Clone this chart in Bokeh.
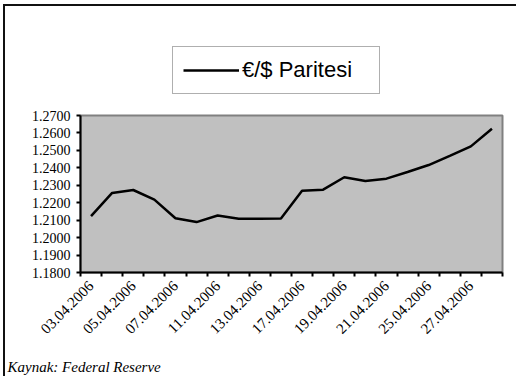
import math
from bokeh.plotting import figure
from bokeh.layouts import column
from bokeh.models import (Range1d, FixedTicker, NumeralTickFormatter, Label,
                          Legend, LegendItem, InlineStyleSheet)
from bokeh.embed import file_html
from bokeh.resources import INLINE

# ---- data ----
dates = ["03.04.2006", "04.04.2006", "05.04.2006", "06.04.2006", "07.04.2006",
         "10.04.2006", "11.04.2006", "12.04.2006", "13.04.2006", "14.04.2006",
         "17.04.2006", "18.04.2006", "19.04.2006", "20.04.2006", "21.04.2006",
         "24.04.2006", "25.04.2006", "26.04.2006", "27.04.2006", "28.04.2006"]
rates = [1.2123, 1.2256, 1.2273, 1.2218, 1.2111, 1.2089, 1.2127, 1.2108,
         1.2108, 1.2110, 1.2268, 1.2275, 1.2346, 1.2325, 1.2338, 1.2376,
         1.2416, 1.2468, 1.2523, 1.2624]
y_ticks = [1.18, 1.19, 1.20, 1.21, 1.22, 1.23, 1.24, 1.25, 1.26, 1.27]
series_name = "€/$ Paritesi"
source_note = "Kaynak: Federal Reserve"

idx = list(range(len(dates)))
W = 511

# ---------- legend strip (top) ----------
top = figure(width=W, height=100, output_backend="svg", toolbar_location=None,
             x_axis_type=None, y_axis_type=None, min_border=0,
             x_range=Range1d(-0.5, len(dates) - 0.5), y_range=Range1d(0, 1))
top.frame_align = False
top.outline_line_color = None
top.xgrid.visible = False
top.ygrid.visible = False
# same series, outside this strip's visible range: only its legend entry shows
r_leg = top.line(idx, rates, line_color="black", line_width=2.5)
lg = Legend(items=[LegendItem(label=series_name, renderers=[r_leg])],
            location=(167, 12), orientation="vertical",
            glyph_width=56, glyph_height=20, label_standoff=3,
            padding=10, spacing=0, margin=0, label_width=127,
            label_text_font="Liberation Sans", label_text_font_size="22px",
            label_text_color="black", border_line_color="#606060",
            border_line_width=1.5, background_fill_color="white",
            background_fill_alpha=1)
top.add_layout(lg)

# ---------- main chart ----------
p = figure(width=W, height=242, output_backend="svg", toolbar_location=None,
           x_range=Range1d(-0.5, len(dates) - 0.5),
           y_range=Range1d(y_ticks[0], y_ticks[-1]),
           min_border_left=75, min_border_right=14,
           min_border_top=9, min_border_bottom=76)
p.background_fill_color = "#c0c0c0"
p.border_fill_color = "white"
p.outline_line_color = "#808080"
p.outline_line_width = 2
p.xgrid.visible = False
p.ygrid.visible = False

p.line(idx, rates, line_color="black", line_width=2.5)

ya = p.yaxis[0]
ya.ticker = FixedTicker(ticks=y_ticks)
ya.formatter = NumeralTickFormatter(format="0.0000")
ya.axis_line_color = "black"
ya.axis_line_width = 2
ya.major_tick_in = 0
ya.major_tick_out = 4
ya.major_tick_line_width = 2
ya.minor_tick_line_color = None
ya.major_label_text_font = "Liberation Serif"
ya.major_label_text_font_size = "14px"
ya.major_label_text_color = "black"
ya.major_label_standoff = 6

xa = p.xaxis[0]
label_pos = idx[::2]
xa.ticker = FixedTicker(ticks=label_pos,
                        minor_ticks=[i - 0.5 for i in range(len(dates) + 1)])
xa.major_label_overrides = {i: dates[i] for i in label_pos}
xa.major_label_orientation = math.pi / 4
xa.axis_line_color = "black"
xa.axis_line_width = 2
xa.major_tick_in = 0
xa.major_tick_out = 0
xa.minor_tick_in = 0
xa.minor_tick_out = 4
xa.minor_tick_line_color = "black"
xa.minor_tick_line_width = 2
xa.major_label_text_font = "Liberation Serif"
xa.major_label_text_font_size = "15px"
xa.major_label_text_color = "black"
xa.major_label_standoff = 7

# ---------- source note strip (bottom) ----------
bot = figure(width=W, height=28, output_backend="svg", toolbar_location=None,
             x_axis_type=None, y_axis_type=None, min_border=0,
             x_range=Range1d(0, 1), y_range=Range1d(0, 1))
bot.frame_align = False
bot.outline_line_color = None
bot.xgrid.visible = False
bot.ygrid.visible = False
bot.add_layout(Label(x=2, y=10, x_units="screen", y_units="screen",
                     text=source_note, text_font="Liberation Serif",
                     text_font_style="italic", text_font_size="15px",
                     text_color="black", text_baseline="middle"))

layout = column(top, p, bot, spacing=0)
layout.stylesheets = [InlineStyleSheet(css=":host { margin: 4px 0 0 3px; border-top: 2px solid #111; border-left: 2px solid #111; }")]

open("out.html", "w").write(file_html(layout, INLINE))
